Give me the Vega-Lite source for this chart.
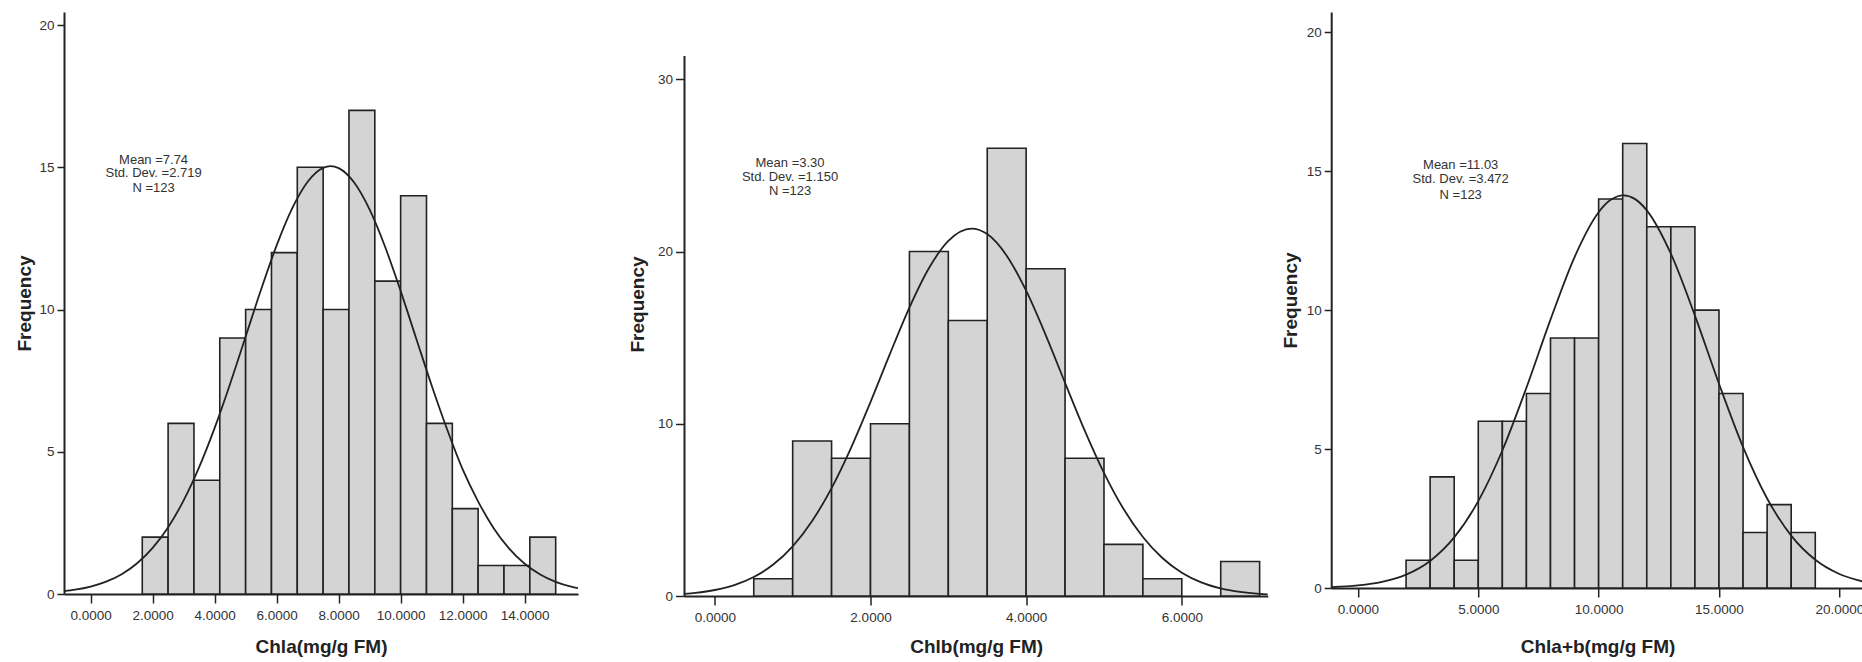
{
  "$schema": "https://vega.github.io/schema/vega-lite/v6.json",
  "padding": {"left": 15, "top": 12, "right": 0, "bottom": 0},
  "background": "white",
  "datasets": {
    "bars1": [
      {"x": 1.665, "x2": 2.498, "y": 2}, {"x": 2.498, "x2": 3.332, "y": 6}, {"x": 3.332, "x2": 4.165, "y": 4},
      {"x": 4.165, "x2": 4.999, "y": 9}, {"x": 4.999, "x2": 5.832, "y": 10}, {"x": 5.832, "x2": 6.665, "y": 12},
      {"x": 6.665, "x2": 7.499, "y": 15}, {"x": 7.499, "x2": 8.332, "y": 10}, {"x": 8.332, "x2": 9.166, "y": 17},
      {"x": 9.166, "x2": 9.999, "y": 11}, {"x": 9.999, "x2": 10.833, "y": 14}, {"x": 10.833, "x2": 11.666, "y": 6},
      {"x": 11.666, "x2": 12.499, "y": 3}, {"x": 12.499, "x2": 13.333, "y": 1}, {"x": 13.333, "x2": 14.166, "y": 1},
      {"x": 14.166, "x2": 15.0, "y": 2}
    ],
    "curve1": [
      {"x": -0.86, "y": 0.101}, {"x": -0.5, "y": 0.152}, {"x": 0, "y": 0.262}, {"x": 0.5, "y": 0.434},
      {"x": 1, "y": 0.696}, {"x": 1.5, "y": 1.080}, {"x": 2, "y": 1.620}, {"x": 2.5, "y": 2.348},
      {"x": 3, "y": 3.291}, {"x": 3.5, "y": 4.459}, {"x": 4, "y": 5.840}, {"x": 4.5, "y": 7.394},
      {"x": 5, "y": 9.052}, {"x": 5.5, "y": 10.712}, {"x": 6, "y": 12.255}, {"x": 6.5, "y": 13.554},
      {"x": 7, "y": 14.493}, {"x": 7.5, "y": 14.981}, {"x": 7.74, "y": 15.040}, {"x": 8, "y": 14.971},
      {"x": 8.5, "y": 14.464}, {"x": 9, "y": 13.509}, {"x": 9.5, "y": 12.198}, {"x": 10, "y": 10.647},
      {"x": 10.5, "y": 8.985}, {"x": 11, "y": 7.330}, {"x": 11.5, "y": 5.781}, {"x": 12, "y": 4.378},
      {"x": 12.5, "y": 3.249}, {"x": 13, "y": 2.315}, {"x": 13.5, "y": 1.595}, {"x": 14, "y": 1.062},
      {"x": 14.5, "y": 0.684}, {"x": 15, "y": 0.426}, {"x": 15.5, "y": 0.256}, {"x": 15.72, "y": 0.203}
    ],
    "text1": [
      {"x": 2.03, "y": 15.27, "t": "Mean =7.74"},
      {"x": 2.03, "y": 14.80, "t": "Std. Dev. =2.719"},
      {"x": 2.03, "y": 14.27, "t": "N =123"}
    ],
    "bars2": [
      {"x": 0.5, "x2": 1.0, "y": 1}, {"x": 1.0, "x2": 1.5, "y": 9}, {"x": 1.5, "x2": 2.0, "y": 8},
      {"x": 2.0, "x2": 2.5, "y": 10}, {"x": 2.5, "x2": 3.0, "y": 20}, {"x": 3.0, "x2": 3.5, "y": 16},
      {"x": 3.5, "x2": 4.0, "y": 26}, {"x": 4.0, "x2": 4.5, "y": 19}, {"x": 4.5, "x2": 5.0, "y": 8},
      {"x": 5.0, "x2": 5.5, "y": 3}, {"x": 5.5, "x2": 6.0, "y": 1}, {"x": 6.5, "x2": 7.0, "y": 2}
    ],
    "curve2": [
      {"x": -0.39, "y": 0.124}, {"x": -0.25, "y": 0.182}, {"x": 0, "y": 0.348}, {"x": 0.25, "y": 0.633},
      {"x": 0.5, "y": 1.101}, {"x": 0.75, "y": 1.826}, {"x": 1, "y": 2.887}, {"x": 1.25, "y": 4.356},
      {"x": 1.5, "y": 6.268}, {"x": 1.75, "y": 8.603}, {"x": 2, "y": 11.262}, {"x": 2.25, "y": 14.063},
      {"x": 2.5, "y": 16.749}, {"x": 2.75, "y": 19.029}, {"x": 3, "y": 20.621}, {"x": 3.3, "y": 21.335},
      {"x": 3.5, "y": 21.015}, {"x": 3.75, "y": 19.763}, {"x": 4, "y": 17.727}, {"x": 4.25, "y": 15.167},
      {"x": 4.5, "y": 12.378}, {"x": 4.75, "y": 9.636}, {"x": 5, "y": 7.155}, {"x": 5.25, "y": 5.067},
      {"x": 5.5, "y": 3.423}, {"x": 5.75, "y": 2.206}, {"x": 6, "y": 1.356}, {"x": 6.25, "y": 0.795},
      {"x": 6.5, "y": 0.444}, {"x": 6.75, "y": 0.237}, {"x": 7, "y": 0.121}, {"x": 7.105, "y": 0.090}
    ],
    "text2": [
      {"x": 0.966, "y": 25.12, "t": "Mean =3.30"},
      {"x": 0.966, "y": 24.31, "t": "Std. Dev. =1.150"},
      {"x": 0.966, "y": 23.51, "t": "N =123"}
    ],
    "axis2": [
      {"x": -0.39, "y": 0, "y2": 31.36}
    ],
    "bars3": [
      {"x": 2, "x2": 3, "y": 1}, {"x": 3, "x2": 4, "y": 4}, {"x": 4, "x2": 5, "y": 1}, {"x": 5, "x2": 6, "y": 6},
      {"x": 6, "x2": 7, "y": 6}, {"x": 7, "x2": 8, "y": 7}, {"x": 8, "x2": 9, "y": 9}, {"x": 9, "x2": 10, "y": 9},
      {"x": 10, "x2": 11, "y": 14}, {"x": 11, "x2": 12, "y": 16}, {"x": 12, "x2": 13, "y": 13}, {"x": 13, "x2": 14, "y": 13},
      {"x": 14, "x2": 15, "y": 10}, {"x": 15, "x2": 16, "y": 7}, {"x": 16, "x2": 17, "y": 2}, {"x": 17, "x2": 18, "y": 3},
      {"x": 18, "x2": 19, "y": 2}
    ],
    "curve3": [
      {"x": -1.11, "y": 0.031}, {"x": 0, "y": 0.091}, {"x": 1, "y": 0.218}, {"x": 2, "y": 0.480},
      {"x": 3, "y": 0.974}, {"x": 4, "y": 1.820}, {"x": 5, "y": 3.128}, {"x": 6, "y": 4.949},
      {"x": 7, "y": 7.206}, {"x": 8, "y": 9.658}, {"x": 9, "y": 11.912}, {"x": 10, "y": 13.525},
      {"x": 10.5, "y": 13.969}, {"x": 11.03, "y": 14.133}, {"x": 11.5, "y": 14.004}, {"x": 12, "y": 13.592},
      {"x": 13, "y": 12.032}, {"x": 14, "y": 9.803}, {"x": 15, "y": 7.351}, {"x": 16, "y": 5.073},
      {"x": 17, "y": 3.223}, {"x": 18, "y": 1.884}, {"x": 19, "y": 1.014}, {"x": 20, "y": 0.502},
      {"x": 21.02, "y": 0.225}
    ],
    "text3": [
      {"x": 4.27, "y": 15.21, "t": "Mean =11.03"},
      {"x": 4.27, "y": 14.72, "t": "Std. Dev. =3.472"},
      {"x": 4.27, "y": 14.14, "t": "N =123"}
    ]
  },
  "spacing": 50.5,
  "hconcat": [
    {
      "width": 514,
      "height": 582,
      "encoding": {
        "x": {"field": "x", "type": "quantitative", "scale": {"domain": [-0.86, 15.72], "nice": false, "zero": false},
              "axis": {"values": [0, 2, 4, 6, 8, 10, 12, 14], "format": ".4f", "title": "Chla(mg/g FM)", "titlePadding": 16}},
        "y": {"field": "y", "type": "quantitative", "scale": {"domain": [0, 20.46], "nice": false},
              "axis": {"values": [0, 5, 10, 15, 20], "title": "Frequency", "titlePadding": 4.5}}
      },
      "layer": [
        {"data": {"name": "bars1"}, "mark": {"type": "rect", "fill": "#d4d4d4", "stroke": "#222222", "strokeWidth": 1.6},
         "encoding": {"x2": {"field": "x2"}, "y2": {"datum": 0}}},
        {"data": {"name": "curve1"}, "mark": {"type": "line", "interpolate": "monotone", "color": "#222222", "strokeWidth": 1.8, "clip": true},
         "encoding": {}},
        {"data": {"name": "text1"}, "mark": {"type": "text", "fontSize": 13, "color": "#333333", "align": "center", "baseline": "middle", "font": "Liberation Sans"},
         "encoding": {"text": {"field": "t"}}}
      ]
    },
    {
      "spacing": 11.7,
      "hconcat": [
        {
          "width": 583.3,
          "height": 584,
          "encoding": {
            "x": {"field": "x", "type": "quantitative", "scale": {"domain": [-0.39, 7.105], "nice": false, "zero": false},
                  "axis": {"values": [0, 2, 4, 6], "format": ".4f", "title": "Chlb(mg/g FM)", "titlePadding": 14}},
            "y": {"field": "y", "type": "quantitative", "scale": {"domain": [0, 33.91], "nice": false},
                  "axis": {"values": [0, 10, 20, 30], "title": "Frequency", "titlePadding": 9.5, "domain": false, "tickSize": 9}}
          },
          "layer": [
            {"data": {"name": "bars2"}, "mark": {"type": "rect", "fill": "#d4d4d4", "stroke": "#222222", "strokeWidth": 1.6},
             "encoding": {"x2": {"field": "x2"}, "y2": {"datum": 0}}},
            {"data": {"name": "curve2"}, "mark": {"type": "line", "interpolate": "monotone", "color": "#222222", "strokeWidth": 1.8, "clip": true},
             "encoding": {}},
            {"data": {"name": "text2"}, "mark": {"type": "text", "fontSize": 13, "color": "#333333", "align": "center", "baseline": "middle", "font": "Liberation Sans"},
             "encoding": {"text": {"field": "t"}}},
            {"data": {"name": "axis2"}, "mark": {"type": "rule", "color": "#222222", "strokeWidth": 2},
             "encoding": {"y2": {"field": "y2"}}}
          ]
        },
        {
          "width": 532.7,
          "height": 576,
          "encoding": {
            "x": {"field": "x", "type": "quantitative", "scale": {"domain": [-1.11, 21.02], "nice": false, "zero": false},
                  "axis": {"values": [0, 5, 10, 15, 20], "format": ".4f", "title": "Chla+b(mg/g FM)", "titlePadding": 21.5}},
            "y": {"field": "y", "type": "quantitative", "scale": {"domain": [0, 20.73], "nice": false},
                  "axis": {"values": [0, 5, 10, 15, 20], "title": "Frequency", "titlePadding": 6}}
          },
          "layer": [
            {"data": {"name": "bars3"}, "mark": {"type": "rect", "fill": "#d4d4d4", "stroke": "#222222", "strokeWidth": 1.6},
             "encoding": {"x2": {"field": "x2"}, "y2": {"datum": 0}}},
            {"data": {"name": "curve3"}, "mark": {"type": "line", "interpolate": "monotone", "color": "#222222", "strokeWidth": 1.8, "clip": true},
             "encoding": {}},
            {"data": {"name": "text3"}, "mark": {"type": "text", "fontSize": 13, "color": "#333333", "align": "center", "baseline": "middle", "font": "Liberation Sans"},
             "encoding": {"text": {"field": "t"}}}
          ]
        }
      ]
    }
  ],
  "config": {
    "view": {"stroke": null},
    "axis": {
      "grid": false,
      "domainColor": "#222222",
      "domainWidth": 2,
      "tickColor": "#222222",
      "tickWidth": 1.5,
      "labelFont": "Liberation Sans",
      "labelFontSize": 13.5,
      "labelColor": "#333333",
      "titleFont": "Liberation Sans",
      "titleFontSize": 19,
      "titleFontWeight": "bold",
      "titleColor": "#222222",
      "labelFlush": false,
      "labelOverlap": false
    },
    "axisX": {"tickSize": 9, "labelPadding": 5},
    "axisY": {"tickSize": 7, "labelPadding": 3}
  }
}
